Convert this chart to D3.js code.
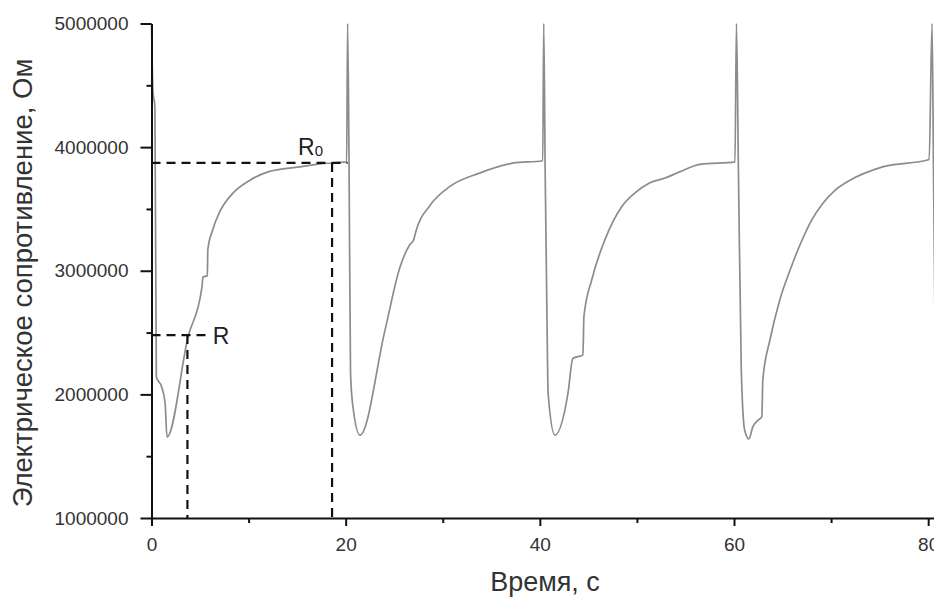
<!DOCTYPE html>
<html>
<head>
<meta charset="utf-8">
<script src="https://cdn.jsdelivr.net/npm/d3@7"></script>
<style>
body { margin: 0; background: #fff; }
svg { display: block; font-family: "Liberation Sans", Arial, sans-serif; }
</style>
</head>
<body>
<div id="chart-area"></div>
<script>
// Time, s
var time = [
    0, 0.15, 0.35, 0.5, 1.05, 1.4, 1.6, 3.76, 5.2, 5.3, 5.75, 5.8, 6.3, 7.05, 8.3, 10.1, 12.0, 15.3, 17.4, 20.1,
    20.2, 20.35, 20.5, 20.75, 21.47, 24.05, 25.6, 26.6, 27.0, 27.2, 28.7, 30.7, 33.8, 37.2, 40.3,
    40.4, 40.55, 40.78, 40.85, 41.55, 42.9, 43.4, 44.44, 44.54, 45.36, 46.7, 48.45, 49.8, 51.3, 52.9, 54.4, 56.5, 60.1,
    60.25, 60.45, 60.75, 61.1, 61.53, 61.95, 62.46, 62.87, 62.97, 63.7, 64.7, 65.8, 66.8, 68.0, 69.2, 70.4, 71.9, 75.3, 80.1,
    80.4, 80.55, 80.75
];
// Electrical resistance, Ohm
var resistance = [
    5000000, 4450000, 4330000, 2140000, 2060000, 1930000, 1655000, 2464000, 2870000, 2950000, 2960000, 3170000, 3330000, 3480000, 3620000, 3730000, 3800000, 3840000, 3865000, 3880000,
    5000000, 3850000, 2170000, 1900000, 1670000, 2520000, 3030000, 3210000, 3250000, 3310000, 3530000, 3680000, 3790000, 3870000, 3890000,
    5000000, 3800000, 2335000, 2010000, 1670000, 2010000, 2290000, 2320000, 2630000, 2930000, 3250000, 3520000, 3630000, 3710000, 3750000, 3800000, 3860000, 3880000,
    5000000, 3850000, 2200000, 1710000, 1640000, 1740000, 1790000, 1820000, 2120000, 2440000, 2760000, 3010000, 3210000, 3410000, 3550000, 3650000, 3730000, 3840000, 3900000,
    5000000, 3800000, 2200000
];

var xTicks = [0, 20, 40, 60, 80];
var xMinorTicks = [10, 30, 50, 70];
var yTicks = [1000000, 2000000, 3000000, 4000000, 5000000];
var yMinorTicks = [1500000, 2500000, 3500000, 4500000];

// marked points: [time, resistance], and where the horizontal guides end
var pointR = [3.7, 2480000];
var pointR0 = [18.6, 3872000];
var endR = 5.6, endR0 = 20.2;

var width = 934, height = 599;

var svg = d3.select("#chart-area")
    .append("svg")
        .attr("width", width)
        .attr("height", height);

// X Scale
var x = d3.scaleLinear()
    .domain([0, 80.6])
    .range([151.5, 934]);

// Y Scale
var y = d3.scaleLinear()
    .domain([1000000, 5000000])
    .range([518, 23.5]);

// curve
var data = time.map(function(t, i){ return { t: t, r: resistance[i] }; });

var line = d3.line()
    .curve(d3.curveMonotoneX)
    .x(function(d){ return x(d.t); })
    .y(function(d){ return y(d.r); });

svg.append("path")
    .datum(data)
    .attr("fill", "none")
    .attr("stroke", "#8c8c8c")
    .attr("stroke-width", 1.7)
    .attr("stroke-linejoin", "round")
    .attr("d", line);

// dashed guides
var dash = "9,6";
function guide(x1, y1, x2, y2){
    svg.append("line")
        .attr("x1", x1).attr("y1", y1)
        .attr("x2", x2).attr("y2", y2)
        .attr("stroke", "#111")
        .attr("stroke-width", 2.2)
        .attr("stroke-dasharray", dash);
}
guide(x(0), y(pointR0[1]), x(endR0), y(pointR0[1]));
guide(x(pointR0[0]), y(pointR0[1]), x(pointR0[0]), y(1000000));
guide(x(0), y(pointR[1]), x(endR), y(pointR[1]));
guide(x(pointR[0]), y(pointR[1]), x(pointR[0]), y(1000000));

// labels R, R0
svg.append("text")
    .attr("x", x(endR) + 7)
    .attr("y", y(pointR[1]) + 9)
    .attr("font-size", "23px")
    .attr("fill", "#222")
    .text("R");

var r0 = svg.append("text")
    .attr("x", x(pointR0[0]) - 34)
    .attr("y", y(pointR0[1]) - 8)
    .attr("font-size", "23px")
    .attr("fill", "#222");
r0.append("tspan").text("R");
r0.append("tspan").attr("font-size", "15px").attr("dy", "1").text("0");

// X Axis
var xAxisGroup = svg.append("g")
    .attr("class", "x axis")
    .attr("transform", "translate(0," + y(1000000) + ")");
xAxisGroup.call(d3.axisBottom(x).tickValues(xTicks).tickSize(8).tickSizeOuter(0).tickPadding(12));

var xMinorGroup = svg.append("g")
    .attr("transform", "translate(0," + y(1000000) + ")");
xMinorGroup.call(d3.axisBottom(x).tickValues(xMinorTicks).tickSize(5).tickFormat(""));
xMinorGroup.select(".domain").remove();

// Y Axis
var yAxisGroup = svg.append("g")
    .attr("class", "y axis")
    .attr("transform", "translate(" + x(0) + ",0)");
yAxisGroup.call(d3.axisLeft(y).tickValues(yTicks).tickSize(11).tickSizeOuter(0).tickPadding(12)
    .tickFormat(d3.format("d")));

var yMinorGroup = svg.append("g")
    .attr("transform", "translate(" + x(0) + ",0)");
yMinorGroup.call(d3.axisLeft(y).tickValues(yMinorTicks).tickSize(5).tickFormat(""));
yMinorGroup.select(".domain").remove();

svg.selectAll(".domain, .tick line")
    .attr("stroke", "#111")
    .attr("stroke-width", 2);

svg.selectAll(".tick text")
    .attr("font-family", "'Liberation Sans', Arial, sans-serif")
    .attr("font-size", "19px")
    .attr("fill", "#333");

// X Label
svg.append("text")
    .attr("x", 545)
    .attr("y", 591)
    .attr("font-size", "27px")
    .attr("text-anchor", "middle")
    .attr("fill", "#333")
    .text("Время, с");

// Y Label
svg.append("text")
    .attr("x", -283)
    .attr("y", 32)
    .attr("font-size", "27.5px")
    .attr("text-anchor", "middle")
    .attr("transform", "rotate(-90)")
    .attr("fill", "#333")
    .text("Электрическое сопротивление, Ом");
</script>
</body>
</html>
